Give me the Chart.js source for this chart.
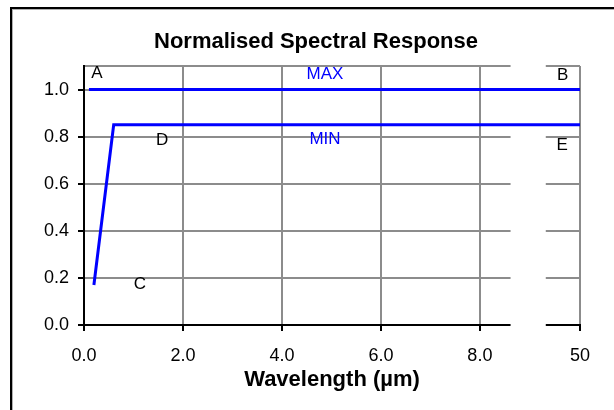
<!DOCTYPE html>
<html>
<head>
<meta charset="utf-8">
<script src="https://cdn.jsdelivr.net/npm/chart.js@4/dist/chart.umd.min.js"></script>
<style>
  body { margin: 0; background: #fff; }
  #wrap { position: relative; width: 614px; height: 410px; overflow: hidden; background: #fff; }
  #frame { position: absolute; left: 10px; top: 7px; width: 700px; height: 500px;
           border: 2px solid #000; box-shadow: inset 1px 1px 0 #b0b0b0; }
  #chart { position: absolute; left: 0; top: 0; }
</style>
</head>
<body>
<div id="wrap">
  <div id="frame"></div>
  <canvas id="chart" width="614" height="410"></canvas>
</div>
<script>
// --- data ---
const maxX = [0.1, 50];
const maxY = [1.0, 1.0];
const minX = [0.2, 0.6, 50];
const minY = [0.17, 0.85, 0.85];
const xTicks = [0, 2, 4, 6, 8, 50];
const yTicks = [0, 0.2, 0.4, 0.6, 0.8, 1.0, 1.1];

// letters and names written on the plot (data units)
const noteText = ['A', 'MAX', 'B', 'D', 'MIN', 'E', 'C'];
const noteX = [0.26, 4.87, 47.4, 1.58, 4.87, 47.3, 1.13];
const noteY = [1.07, 1.066, 1.06, 0.786, 0.79, 0.764, 0.174];
const noteBlue = ['MAX', 'MIN'];

// x axis is broken between 8.6 and 45
const BREAK_AT = 8.6;
const RESUME_AT = 45;
const GAP_START = 0.858; // fraction of axis width
const GAP_END = 0.933;

class BrokenScale extends Chart.LinearScale {
  static id = 'broken';
  static defaults = Chart.LinearScale.defaults;

  getPixelForValue(value) {
    const a = this.left, w = this.right - this.left;
    const p1 = a + w * GAP_START, p2 = a + w * GAP_END;
    if (value <= BREAK_AT) return a + (value - this.min) / (BREAK_AT - this.min) * (p1 - a);
    if (value >= RESUME_AT) return p2 + (value - RESUME_AT) / (this.max - RESUME_AT) * (this.right - p2);
    return p1 + (value - BREAK_AT) / (RESUME_AT - BREAK_AT) * (p2 - p1);
  }

  getValueForPixel(pixel) {
    const a = this.left, w = this.right - this.left;
    const p1 = a + w * GAP_START, p2 = a + w * GAP_END;
    if (pixel <= p1) return this.min + (pixel - a) / (p1 - a) * (BREAK_AT - this.min);
    if (pixel >= p2) return RESUME_AT + (pixel - p2) / (this.right - p2) * (this.max - RESUME_AT);
    return BREAK_AT + (pixel - p1) / (p2 - p1) * (RESUME_AT - BREAK_AT);
  }
}
Chart.register(BrokenScale);

// white out the grid in the axis gap, before the lines are drawn
const gapPlugin = {
  id: 'gap',
  beforeDatasetsDraw(chart) {
    const xs = chart.scales.x, area = chart.chartArea, c = chart.ctx;
    const x1 = xs.getPixelForValue(BREAK_AT);
    const x2 = xs.getPixelForValue(RESUME_AT);
    c.save();
    c.fillStyle = '#fff';
    c.fillRect(x1 + 1, area.top - 3, x2 - x1 - 2, area.bottom - area.top + 12);
    c.restore();
  }
};

const notesPlugin = {
  id: 'notes',
  afterDatasetsDraw(chart) {
    const xs = chart.scales.x, ys = chart.scales.y, c = chart.ctx;
    c.save();
    c.font = '17px "Liberation Sans", Arial, sans-serif';
    c.textAlign = 'center';
    c.textBaseline = 'middle';
    noteText.forEach((t, i) => {
      c.fillStyle = noteBlue.includes(t) ? '#0000ff' : '#000';
      c.fillText(t, xs.getPixelForValue(noteX[i]), ys.getPixelForValue(noteY[i]));
    });
    c.restore();
  }
};

const font = '"Liberation Sans", Arial, sans-serif';
const gridColor = ctx => ctx.tick && ctx.tick.value === 0 ? '#000' : '#8c8c8c';

new Chart(document.getElementById('chart'), {
  type: 'line',
  data: {
    datasets: [
      { label: 'MAX', data: maxX.map((x, i) => ({ x, y: maxY[i] })),
        borderColor: '#0000ff', borderWidth: 3, pointRadius: 0, tension: 0 },
      { label: 'MIN', data: minX.map((x, i) => ({ x, y: minY[i] })),
        borderColor: '#0000ff', borderWidth: 3, pointRadius: 0, tension: 0 }
    ]
  },
  options: {
    responsive: false,
    animation: false,
    layout: { padding: { left: 18, right: 0, top: 0, bottom: 0 } },
    plugins: {
      legend: { display: false },
      tooltip: { enabled: false },
      title: {
        display: true,
        text: 'Normalised Spectral Response',
        color: '#000',
        font: { family: font, size: 22, weight: 'bold' },
        padding: { top: 29, bottom: 10.6 }
      }
    },
    scales: {
      x: {
        type: 'broken',
        min: 0,
        max: 50,
        afterBuildTicks: s => { s.ticks = xTicks.map(v => ({ value: v })); },
        afterFit: s => { s.height = 85; },
        grid: { color: gridColor, tickColor: '#000', lineWidth: 2, tickLength: 6 },
        border: { color: '#000', width: 2 },
        ticks: {
          autoSkip: false,
          maxRotation: 0,
          padding: 14,
          color: '#000',
          font: { family: font, size: 18 },
          callback: v => v > BREAK_AT ? String(v) : v.toFixed(1)
        },
        title: {
          display: true,
          text: 'Wavelength (µm)',
          color: '#000',
          font: { family: font, size: 22, weight: 'bold' },
          padding: { top: 0, bottom: 17 }
        }
      },
      y: {
        min: 0,
        max: 1.1,
        afterBuildTicks: s => { s.ticks = yTicks.map(v => ({ value: v })); },
        afterFit: s => { s.width = 66; },
        grid: {
          color: gridColor,
          tickColor: ctx => ctx.tick && ctx.tick.value > 1.0 ? 'rgba(0,0,0,0)' : '#000',
          lineWidth: 2,
          tickLength: 6
        },
        border: { color: '#000', width: 2 },
        ticks: {
          padding: 9,
          color: '#000',
          font: { family: font, size: 18 },
          callback: v => v > 1.0 ? '' : v.toFixed(1)
        }
      },
      // empty right-hand axis that only holds the space right of the plot
      yRight: {
        position: 'right',
        min: 0,
        max: 1.1,
        afterFit: s => { s.width = 34; },
        grid: { display: false, drawOnChartArea: false },
        border: { display: false },
        ticks: { display: false }
      }
    }
  },
  plugins: [gapPlugin, notesPlugin]
});
</script>
</body>
</html>
